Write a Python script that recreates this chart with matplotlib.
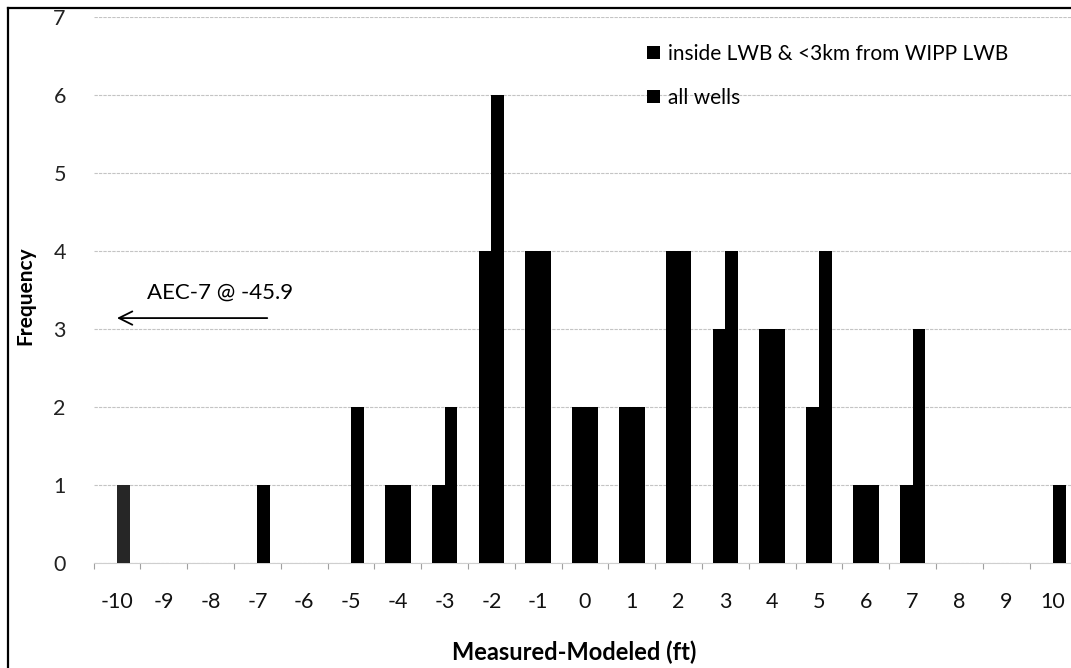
import matplotlib.pyplot as plt
from matplotlib.patches import Patch
from matplotlib.lines import Line2D
import numpy as np

# Histogram bins (Measured - Modeled, ft)
bins = list(range(-10, 11))

# Frequency per bin
inside_lwb = [0, 0, 0, 0, 0, 0, 1, 1, 4, 4, 2, 2, 4, 3, 3, 2, 1, 1, 0, 0, 0]
all_wells = [1, 0, 0, 1, 0, 2, 1, 2, 6, 4, 2, 2, 4, 4, 3, 4, 1, 3, 0, 0, 1]

series_labels = ["inside LWB & <3km from WIPP LWB", "all wells"]
y_ticks = [0, 1, 2, 3, 4, 5, 6, 7]

plt.rcParams['font.family'] = ['Lato', 'DejaVu Sans']

fig = plt.figure(figsize=(10.71, 6.68), dpi=100)
W, H = 1071, 668

# plot area in pixels (left, top, right, bottom)
px_l, px_r = 93.6, 1076.4
px_t, px_b = 17, 563
ax = fig.add_axes([px_l / W, 1 - px_b / H, (px_r - px_l) / W, (px_b - px_t) / H])

x = np.array(bins)
w = 0.275
ax.bar(x - w / 2, inside_lwb, width=w, color="black", zorder=3)
# outlier bin shows a speckled, slightly lighter fill in the original
colors = ["#262626" if b == -10 else "black" for b in bins]
ax.bar(x + w / 2, all_wells, width=w, color=colors, zorder=3)

ax.set_xlim(-10.5, 10.5)
ax.set_ylim(0, 7)
ax.set_yticks(y_ticks)
ax.set_xticks(bins)
ax.set_xticklabels([str(b) for b in bins])
ax.set_xticks(np.arange(-10.5, 10.6, 1), minor=True)

for s in ["top", "right", "left"]:
    ax.spines[s].set_visible(False)
ax.spines["bottom"].set_color("#cfcfcf")
ax.spines["bottom"].set_linewidth(0.8)

ax.yaxis.grid(True, color="#c4c4c4", linewidth=0.8, linestyle=(0, (3, 1)), zorder=0)
ax.tick_params(axis="y", length=0, pad=20, labelsize=15.5, labelcolor="#222222")
ax.tick_params(axis="x", which="major", length=0, pad=21, labelsize=15.5, labelcolor="#111111")
ax.tick_params(axis="x", which="minor", length=4, color="#a0a0a0", width=0.8)

ax.set_ylabel("Frequency", fontsize=15, fontweight="bold")
ax.yaxis.set_label_coords(-0.069, 0.49)
ax.yaxis.label.set_va("center")
ax.set_xlabel("Measured-Modeled (ft)", fontsize=17, fontweight="bold")
ax.xaxis.set_label_coords(0.489, -0.163)
ax.xaxis.label.set_va("center")

# off-scale outlier note
ax.text(-9.36, 3.46, "AEC-7 @ -45.9", fontsize=16, ha="left", va="center")
ax.annotate("", xy=(-10.06, 3.14), xytext=(-6.73, 3.14),
            arrowprops=dict(arrowstyle="->", color="black", lw=1.3,
                            mutation_scale=24))

handles = [Patch(facecolor="black"), Patch(facecolor="black")]
ax.legend(handles, series_labels, loc="upper left",
          bbox_to_anchor=((647 - px_l) / (px_r - px_l), (px_b - 44) / (px_b - px_t)),
          frameon=False, fontsize=15, handlelength=0.6, handleheight=0.6,
          handletextpad=0.4, labelspacing=1.15, borderpad=0, borderaxespad=0)

# chart border (top and left visible in the scan)
fig.add_artist(Line2D([8 / W, 1], [1 - 8 / H, 1 - 8 / H], color="black", lw=1.6))
fig.add_artist(Line2D([8 / W, 8 / W], [0, 1 - 8 / H], color="black", lw=1.6))

fig.savefig("out.png", dpi=100)
